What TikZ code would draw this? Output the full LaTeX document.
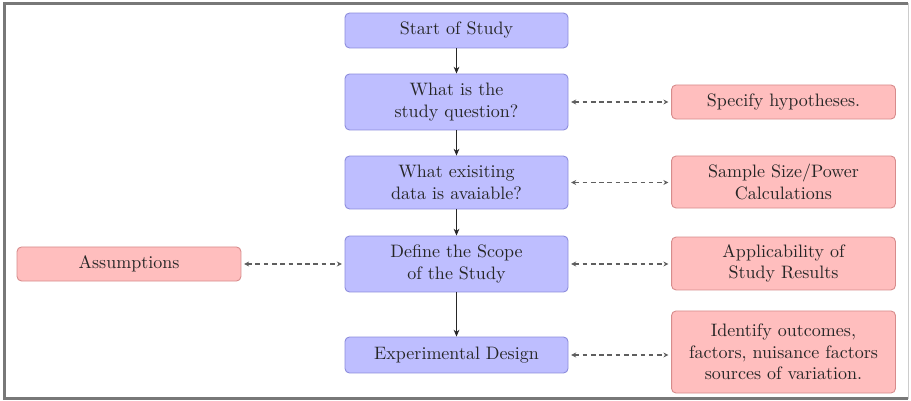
\documentclass[tikz,border=0pt]{standalone}
\usetikzlibrary{arrows.meta}
\definecolor{bfill}{RGB}{190,190,255}
\definecolor{bdraw}{RGB}{140,140,220}
\definecolor{rfill}{RGB}{255,190,190}
\definecolor{rdraw}{RGB}{215,140,140}
\definecolor{framecol}{RGB}{120,120,120}
\definecolor{dashcol}{RGB}{95,95,95}
\begin{document}
\begin{tikzpicture}[x=0.5556pt,y=-0.5556pt,
  bluebox/.style={draw=bdraw,fill=bfill,rounded corners=2.5pt,line width=0.5pt,
    align=center,minimum width=123.9pt,inner sep=2pt,text=black!85},
  redbox/.style={draw=rdraw,fill=rfill,rounded corners=2.5pt,line width=0.5pt,
    align=center,minimum width=124.4pt,inner sep=2pt,text=black!85},
  flowarrow/.style={-{Stealth[length=3.8pt,width=3.2pt]},line width=0.85pt,black!85},
  linkarrow/.style={{Stealth[length=2.8pt,width=2.8pt]}-{Stealth[length=2.8pt,width=2.8pt]},
    dashcol,line width=0.8pt,dash pattern=on 2.6pt off 2pt,shorten <=1.5pt,shorten >=1.5pt}]
\useasboundingbox (0,0) rectangle (911,401);
% frame
\draw[framecol,line width=1.3pt] (908,3.5) -- (4.5,3.5) -- (4.5,398.5) -- (908,398.5);
\draw[black!20,line width=0.5pt] (908,3.5) -- (908,398.5);
% main column
\node[bluebox,minimum height=19.4pt] (start) at (456.5,30.5) {Start of Study};
\node[bluebox,minimum height=31.1pt] (quest) at (456.5,102) {What is the\\study question?};
\node[bluebox,minimum height=29.4pt] (data) at (456.5,182.5) {What exisiting\\data is avaiable?};
\node[bluebox,minimum height=31.1pt] (scope) at (456.5,264) {Define the Scope\\of the Study};
\node[bluebox,minimum height=20pt] (design) at (456.5,355) {Experimental Design};
% right column
\node[redbox,minimum height=18.9pt] (hyp) at (783.5,102) {Specify hypotheses.};
\node[redbox,minimum height=28.9pt] (sample) at (783.5,182) {Sample Size/Power\\Calculations};
\node[redbox,minimum height=29.4pt] (appl) at (783.5,263.5) {Applicability of\\Study Results};
\node[redbox,minimum height=45.6pt] (ident) at (783.5,352) {Identify outcomes,\\factors, nuisance factors\\sources of variation.};
% left
\node[redbox,minimum height=18.9pt] (assump) at (129,264) {Assumptions};
% flow arrows
\draw[flowarrow] (start) -- (quest);
\draw[flowarrow] (quest) -- (data);
\draw[flowarrow] (data) -- (scope);
\draw[flowarrow] (scope) -- (design);
% dashed links
\draw[linkarrow] (quest.east) -- (hyp.west |- quest.east);
\draw[linkarrow] (data.east) -- (sample.west |- data.east);
\draw[linkarrow] (scope.east) -- (appl.west |- scope.east);
\draw[linkarrow] (design.east) -- (ident.west |- design.east);
\draw[linkarrow] (assump.east) -- (scope.west |- assump.east);
\end{tikzpicture}
\end{document}
